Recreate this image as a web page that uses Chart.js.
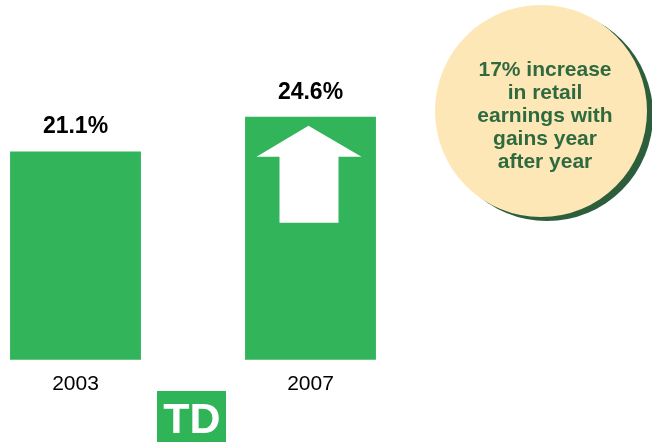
<!DOCTYPE html>
<html>
<head>
<meta charset="utf-8">
<script src="https://cdn.jsdelivr.net/npm/chart.js@4"></script>
<style>
  body { margin: 0; background: #fff; }
</style>
</head>
<body>
<canvas id="retailChart" width="652" height="442"></canvas>
<script>
// data
const years = ['2003', '2007'];
const shareValues = [21.1, 24.6];
const calloutLines = ['17% increase', 'in retail', 'earnings with', 'gains year', 'after year'];

const green = '#32b55a';

// value labels, arrow, callout circle and logo
const extras = {
  id: 'extras',
  afterDatasetsDraw(chart) {
    const ctx = chart.ctx;
    const bars = chart.getDatasetMeta(0).data;
    ctx.save();

    // labels above bars
    ctx.fillStyle = '#000';
    ctx.font = 'bold 23px "Liberation Sans", Arial, sans-serif';
    ctx.textAlign = 'center';
    ctx.textBaseline = 'alphabetic';
    bars.forEach((bar, i) => {
      ctx.fillText(shareValues[i].toFixed(1) + '%', bar.x, bar.y - 18);
    });

    // white up arrow in the last bar
    const b = bars[bars.length - 1];
    ctx.fillStyle = '#fff';
    ctx.beginPath();
    ctx.moveTo(b.x - 2, b.y + 9);
    ctx.lineTo(b.x + 51, b.y + 40);
    ctx.lineTo(b.x + 28, b.y + 40);
    ctx.lineTo(b.x + 28, b.y + 106);
    ctx.lineTo(b.x - 31, b.y + 106);
    ctx.lineTo(b.x - 31, b.y + 40);
    ctx.lineTo(b.x - 54, b.y + 40);
    ctx.closePath();
    ctx.fill();

    // callout circle with shadow
    ctx.fillStyle = '#2c5e3b';
    ctx.beginPath();
    ctx.arc(547, 115, 106, 0, Math.PI * 2);
    ctx.fill();
    ctx.fillStyle = '#fde7b6';
    ctx.beginPath();
    ctx.arc(541, 111, 106, 0, Math.PI * 2);
    ctx.fill();
    ctx.fillStyle = '#2e6a3f';
    ctx.font = 'bold 21px "Liberation Sans", Arial, sans-serif';
    calloutLines.forEach((line, i) => {
      ctx.fillText(line, 545, 76 + i * 23);
    });

    // TD logo
    ctx.fillStyle = '#2fb457';
    ctx.fillRect(157, 391, 69, 51);
    ctx.fillStyle = '#fff';
    ctx.font = 'bold 43px "Liberation Sans", Arial, sans-serif';
    ctx.fillText('TD', 192, 433);

    ctx.restore();
  }
};

new Chart(document.getElementById('retailChart'), {
  type: 'bar',
  data: {
    labels: years,
    datasets: [{
      data: shareValues,
      backgroundColor: green,
      categoryPercentage: 1,
      barPercentage: 0.557,
      clip: false
    }]
  },
  options: {
    responsive: false,
    animation: false,
    layout: { padding: { left: 75.5, right: 341.5, top: 63.5, bottom: 33 } },
    plugins: { legend: { display: false }, tooltip: { enabled: false } },
    scales: {
      x: {
        offset: false,
        grid: { display: false, drawTicks: false },
        border: { display: false },
        ticks: {
          color: '#000',
          padding: 12,
          font: { family: '"Liberation Sans", Arial, sans-serif', size: 21 }
        }
      },
      y: {
        display: false,
        min: 0,
        max: 30
      }
    }
  },
  plugins: [extras]
});
</script>
</body>
</html>
